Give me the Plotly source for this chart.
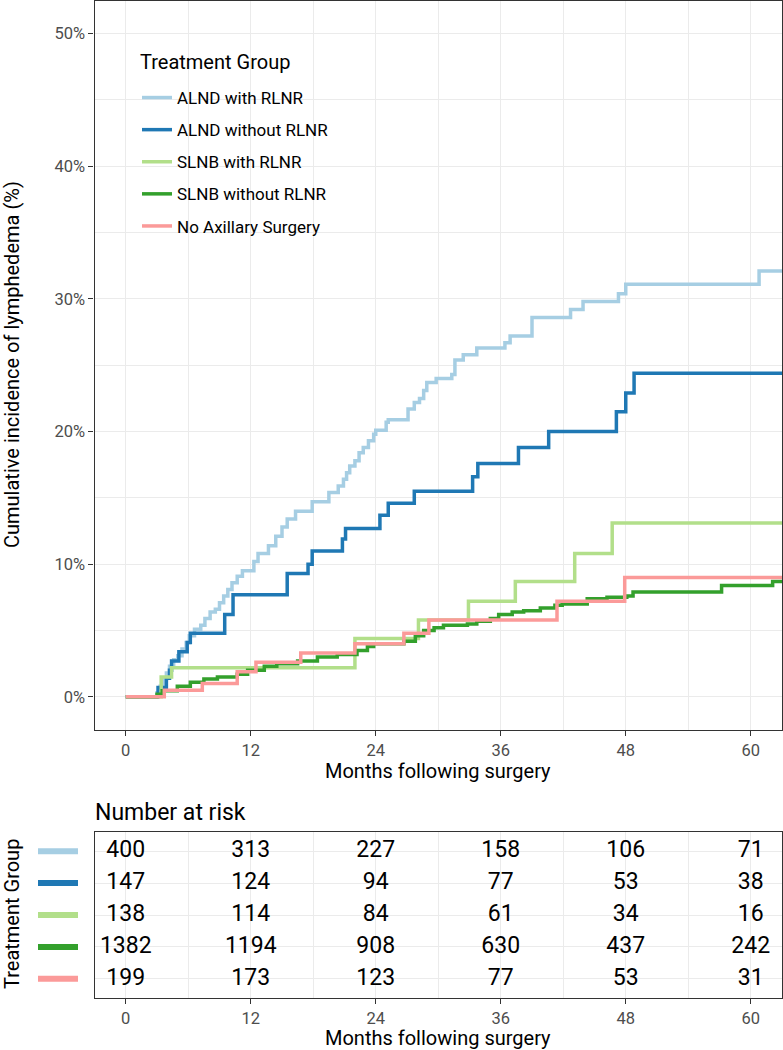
import plotly.graph_objects as go

# ---------------- data ----------------
groups = ["ALND with RLNR", "ALND without RLNR", "SLNB with RLNR",
          "SLNB without RLNR", "No Axillary Surgery"]
colors = ["#A6CEE3", "#1F78B4", "#B2DF8A", "#33A02C", "#FB9A99"]

# cumulative incidence (%) step curves, months following surgery
alnd_rlnr_t = [0, 3.0, 3.3, 3.6, 3.9, 4.2, 4.6, 5.0, 5.4, 5.8, 6.1, 6.6, 7.2, 7.6, 8.1,
               8.6, 9.0, 9.4, 9.8, 10.2, 10.7, 11.2, 12.3, 12.7, 13.7, 14.4, 15.0, 15.5,
               16.3, 17.9, 19.5, 20.4, 20.9, 21.2, 21.5, 22.0, 22.4, 22.8, 23.3, 23.8,
               24.0, 25.0, 25.2, 27.1, 27.7, 28.2, 28.6, 28.9, 29.8, 31.3, 31.6, 32.4,
               33.7, 36.4, 36.9, 39.0, 42.7, 43.9, 47.3, 48.0, 60.8, 66.0]
alnd_rlnr_y = [0, 0.3, 0.8, 1.3, 1.8, 2.3, 2.8, 3.1, 3.6, 4.1, 4.6, 5.1, 5.4, 5.9, 6.4,
               6.6, 7.1, 7.6, 8.1, 8.6, 9.1, 9.5, 10.2, 10.8, 11.4, 12.1, 12.8, 13.4,
               14.0, 14.7, 15.4, 15.9, 16.4, 16.9, 17.4, 17.8, 18.4, 18.8, 19.3, 19.8,
               20.1, 20.7, 20.9, 21.7, 22.2, 22.5, 23.1, 23.7, 24.0, 24.3, 25.4, 25.8,
               26.3, 26.7, 27.2, 28.6, 29.2, 29.8, 30.4, 31.1, 32.1, 32.1]

alnd_no_t = [0, 3.1, 3.9, 4.2, 4.4, 5.1, 5.9, 6.2, 9.5, 10.3, 15.5, 17.5, 17.9, 20.8,
             21.1, 24.4, 25.2, 27.7, 33.3, 33.8, 37.7, 40.6, 47.1, 48.0, 48.8, 66.0]
alnd_no_y = [0, 0.7, 1.4, 2.0, 2.7, 3.4, 4.1, 4.8, 6.2, 7.7, 9.3, 10.0, 11.0, 11.9,
             12.7, 13.7, 14.6, 15.5, 16.6, 17.6, 18.8, 20.0, 21.5, 22.9, 24.4, 24.4]

slnb_rlnr_t = [0, 3.4, 4.4, 22.0, 28.1, 32.9, 37.4, 43.1, 46.7, 66.0]
slnb_rlnr_y = [0, 1.5, 2.2, 4.4, 5.8, 7.2, 8.7, 10.8, 13.1, 13.1]

slnb_no_t = [0, 3.0, 3.5, 4.95, 6.2, 7.5, 8.8, 10.7, 11.7, 13.3, 14.5, 16.5, 18.4,
             20.3, 22.2, 23.2, 23.8, 26.7, 27.8, 28.6, 29.6, 30.5, 32.8, 33.7, 35.0,
             35.8, 37.1, 38.2, 39.8, 41.2, 41.9, 44.3, 46.2, 48.1, 48.7, 57.2, 62.1, 66.0]
slnb_no_y = [0, 0.2, 0.45, 0.8, 1.1, 1.35, 1.5, 1.7, 2.0, 2.3, 2.5, 2.7, 3.0,
             3.2, 3.5, 3.8, 4.0, 4.2, 4.6, 5.0, 5.2, 5.4, 5.5, 5.7, 5.9,
             6.2, 6.4, 6.5, 6.7, 6.9, 7.0, 7.4, 7.5, 7.6, 7.9, 8.4, 8.7, 8.7]

none_t = [0, 3.7, 7.35, 10.7, 12.5, 16.8, 22.0, 26.7, 29.1, 41.4, 47.9, 66.0]
none_y = [0, 0.5, 1.0, 1.9, 2.6, 3.3, 4.0, 4.8, 5.8, 7.2, 9.0, 9.0]

curve_t = [alnd_rlnr_t, alnd_no_t, slnb_rlnr_t, slnb_no_t, none_t]
curve_y = [alnd_rlnr_y, alnd_no_y, slnb_rlnr_y, slnb_no_y, none_y]

# number at risk table
risk_times = [0, 12, 24, 36, 48, 60]
risk_alnd_rlnr = [400, 313, 227, 158, 106, 71]
risk_alnd_no = [147, 124, 94, 77, 53, 38]
risk_slnb_rlnr = [138, 114, 84, 61, 34, 16]
risk_slnb_no = [1382, 1194, 908, 630, 437, 242]
risk_none = [199, 173, 123, 77, 53, 31]
risk_rows = [risk_alnd_rlnr, risk_alnd_no, risk_slnb_rlnr, risk_slnb_no, risk_none]

x_ticks = [0, 12, 24, 36, 48, 60]
y_ticks = [0, 10, 20, 30, 40, 50]
y_ticktext = ["0%", "10%", "20%", "30%", "40%", "50%"]

# ---------------- figure ----------------
W, H = 783, 1050
FONT = "Roboto"
GRID = "#EBEBEB"
BORDER = "#333333"
TICKC = "#4D4D4D"

def px_x(p):
    return p / W

def px_y(p):
    return (H - p) / H

fig = go.Figure()

for i, g in enumerate(groups):
    fig.add_trace(go.Scatter(
        x=curve_t[i], y=curve_y[i], mode="lines", name=g,
        line=dict(color=colors[i], width=3.5, shape="hv"),
        legendgroup=g, xaxis="x", yaxis="y", hoverinfo="skip"))

for i, g in enumerate(groups):
    fig.add_trace(go.Scatter(
        x=risk_times, y=[i + 1] * len(risk_times), mode="text",
        text=[str(v) for v in risk_rows[i]],
        textfont=dict(size=23, color="black", family=FONT),
        textposition="middle center", showlegend=False,
        xaxis="x2", yaxis="y2", cliponaxis=False, hoverinfo="skip"))

axis_common = dict(
    showline=True, mirror=True, linecolor=BORDER, linewidth=1.2,
    ticks="outside", ticklen=5, tickcolor=BORDER, tickwidth=1.2,
    showgrid=True, gridcolor=GRID, gridwidth=1.3, zeroline=False,
    tickfont=dict(size=16.5, color=TICKC, family=FONT), automargin=False,
)

x_dom = [px_x(94.5), px_x(782)]

fig.update_layout(
    width=W, height=H,
    margin=dict(l=0, r=0, t=0, b=0),
    paper_bgcolor="white", plot_bgcolor="white",
    font=dict(family=FONT, color="black"),
    xaxis=dict(domain=x_dom, range=[-3, 63], tickvals=x_ticks, anchor="y",
               minor=dict(dtick=6, tick0=0, showgrid=True, gridcolor=GRID,
                          gridwidth=1, ticklen=0),
               **axis_common),
    yaxis=dict(domain=[px_y(730), px_y(0.5)], range=[-2.5, 52.5], tickvals=y_ticks,
               ticktext=y_ticktext, anchor="x",
               minor=dict(dtick=5, tick0=0, showgrid=True, gridcolor=GRID,
                          gridwidth=1, ticklen=0),
               **axis_common),
    xaxis2=dict(domain=x_dom, range=[-3, 63], tickvals=x_ticks, anchor="y2",
                minor=dict(dtick=6, tick0=0, showgrid=True, gridcolor=GRID,
                           gridwidth=1, ticklen=0),
                **axis_common),
    yaxis2=dict(domain=[px_y(998), px_y(832)], range=[5.6, 0.4], tickvals=[1, 2, 3, 4, 5],
                anchor="x2", showline=True, mirror=True, linecolor=BORDER, linewidth=1.2,
                showgrid=True, gridcolor=GRID, gridwidth=1.3, zeroline=False,
                showticklabels=False, ticks="", automargin=False),
    legend=dict(
        x=px_x(137), y=px_y(80), xanchor="left", yanchor="top",
        bgcolor="rgba(255,255,255,0)", borderwidth=0,
        font=dict(size=17, color="black", family=FONT),
        tracegroupgap=7, itemwidth=30,
    ),
    showlegend=True,
)

# legend background box (covers grid lines like the ggplot legend)
fig.add_shape(type="rect", xref="paper", yref="paper", layer="between",
              x0=px_x(125), x1=px_x(334), y0=px_y(240), y1=px_y(42),
              fillcolor="white", line=dict(width=0))

# colored keys beside the risk table
for i, c in enumerate(colors):
    fig.add_shape(type="line", xref="paper", yref="y2",
                  x0=px_x(38), x1=px_x(78), y0=i + 1, y1=i + 1,
                  line=dict(color=c, width=6))

ann = [
    dict(text="Months following surgery", x=px_x(438), y=px_y(771), font_size=20),
    dict(text="Months following surgery", x=px_x(438), y=px_y(1038), font_size=20),
    dict(text="Cumulative incidence of lymphedema (%)", x=px_x(12), y=px_y(365),
         font_size=20, textangle=-90),
    dict(text="Treatment Group", x=px_x(12), y=px_y(914), font_size=20, textangle=-90),
]
for a in ann:
    fig.add_annotation(xref="paper", yref="paper", showarrow=False,
                       xanchor="center", yanchor="middle",
                       font=dict(size=a["font_size"], color="black", family=FONT),
                       text=a["text"], x=a["x"], y=a["y"],
                       textangle=a.get("textangle", 0))
fig.add_annotation(xref="paper", yref="paper", showarrow=False,
                   xanchor="left", yanchor="middle", text="Number at risk",
                   x=px_x(93), y=px_y(812),
                   font=dict(size=23, color="black", family=FONT))
fig.add_annotation(xref="paper", yref="paper", showarrow=False,
                   xanchor="left", yanchor="middle", text="Treatment Group",
                   x=px_x(138), y=px_y(62),
                   font=dict(size=20, color="black", family=FONT))

fig.write_html("out.html",
               config={"displayModeBar": False},
               post_script="document.body.style.margin='0px';"
                           "document.body.style.padding='0px';")
